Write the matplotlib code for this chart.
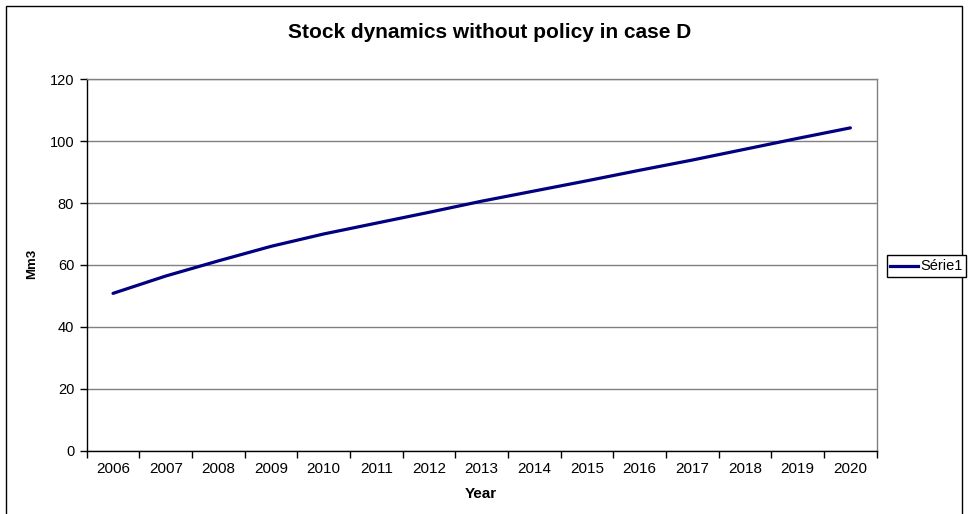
import matplotlib
matplotlib.use("Agg")
import matplotlib.pyplot as plt
from matplotlib.patches import Rectangle
from matplotlib.lines import Line2D

plt.rcParams['font.family'] = ['Liberation Sans', 'DejaVu Sans']

years = ['2006', '2007', '2008', '2009', '2010', '2011', '2012', '2013',
         '2014', '2015', '2016', '2017', '2018', '2019', '2020']
stock = [50.8, 56.4, 61.3, 66.0, 70.0, 73.5, 77.0, 80.6,
         83.9, 87.2, 90.6, 93.9, 97.4, 100.9, 104.3]
series_name = 'Série1'
y_ticks = [0, 20, 40, 60, 80, 100, 120]

W, H = 968, 514
fig = plt.figure(figsize=(W / 100, H / 100), dpi=100)

# outer chart frame
fig.patches.append(Rectangle((6 / W, -0.05), (962 - 6) / W, (H - 6) / H + 0.05,
                             transform=fig.transFigure, fill=False,
                             edgecolor='black', linewidth=1.0))

left, right, top, bottom = 86.7, 876.7, 79.3, 450.5
ax = fig.add_axes([left / W, (H - bottom) / H, (right - left) / W, (bottom - top) / H])

x = list(range(len(years)))
ax.plot(x, stock, color='#000080', linewidth=2.3, solid_capstyle='round',
        label=series_name, zorder=3)

ax.set_xlim(-0.5, len(years) - 0.5)
ax.set_ylim(y_ticks[0], y_ticks[-1])
ax.set_yticks(y_ticks)
ax.set_yticklabels([str(v) for v in y_ticks], fontsize=10.5)
ax.grid(axis='y', color='#808080', linewidth=1.0)
ax.set_axisbelow(True)

# category boundaries as tick marks, labels centred on categories
ax.set_xticks([i - 0.5 for i in range(len(years) + 1)])
ax.set_xticklabels([''] * (len(years) + 1))
ax.set_xticks(x, minor=True)
ax.set_xticklabels(years, minor=True, fontsize=11)
ax.tick_params(axis='x', which='major', length=5, width=1, color='black', direction='out')
ax.tick_params(axis='x', which='minor', length=0, pad=8)
ax.tick_params(axis='y', length=5, width=1, color='black', direction='out', pad=4)

for side in ('left', 'bottom'):
    ax.spines[side].set_color('black')
    ax.spines[side].set_linewidth(1.0)
for side in ('right', 'top'):
    ax.spines[side].set_color('#808080')
    ax.spines[side].set_linewidth(1.0)

fig.text(490 / W, 1 - 33 / H, 'Stock dynamics without policy in case D',
         ha='center', va='center', fontsize=15, fontweight='bold')
fig.text(481 / W, 1 - 494 / H, 'Year', ha='center', va='center',
         fontsize=11, fontweight='bold')
fig.text(32 / W, 1 - 264 / H, 'Mm3', ha='center', va='center',
         fontsize=9.5, fontweight='bold', rotation=90)

# legend box
fig.patches.append(Rectangle((887 / W, 1 - 277 / H), (966 - 887) / W, 22 / H,
                             transform=fig.transFigure, fill=True,
                             facecolor='white', edgecolor='black', linewidth=1.0))
fig.lines.append(Line2D([890 / W, 918 / W], [1 - 266 / H, 1 - 266 / H],
                        transform=fig.transFigure, color='#000080', linewidth=2.3))
fig.text(920 / W, 1 - 266 / H, series_name, ha='left', va='center', fontsize=10.5)

fig.savefig('out.png', dpi=100)
